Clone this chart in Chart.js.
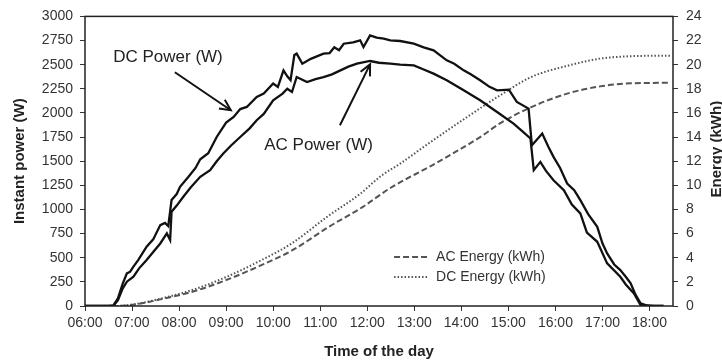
<!DOCTYPE html>
<html><head><meta charset="utf-8">
<script src="https://cdn.jsdelivr.net/npm/chart.js@4/dist/chart.umd.min.js"></script>
<style>html,body{margin:0;padding:0;background:#fff;overflow:hidden}canvas{display:block}</style>
</head><body>
<canvas id="c" width="722" height="362"></canvas>
<script>
// ---- data (hours of the day, W / kWh) ----
const dcPowerTimes = [6.0,6.5,6.6,6.7,6.8,6.89,6.96,7.03,7.13,7.31,7.45,7.6,7.7,7.77,7.84,7.95,8.02,8.2,8.35,8.45,8.62,8.8,9.0,9.16,9.3,9.44,9.65,9.8,10.0,10.1,10.22,10.3,10.37,10.45,10.5,10.62,10.8,11.07,11.2,11.3,11.4,11.5,11.7,11.85,11.92,12.06,12.2,12.35,12.49,12.7,12.99,13.2,13.41,13.69,13.85,14.05,14.2,14.4,14.6,14.76,15.01,15.18,15.43,15.5,15.6,15.72,15.85,15.96,16.1,16.25,16.4,16.53,16.7,16.89,17.0,17.1,17.25,17.38,17.5,17.6,17.7,17.81,17.95,18.1,18.3];
const dcPowerValues = [0,0,5,80,230,338,355,407,476,614,690,838,860,828,1097,1160,1234,1338,1430,1520,1583,1751,1900,1958,2040,2062,2165,2200,2304,2269,2441,2380,2340,2600,2614,2510,2560,2614,2620,2680,2650,2717,2730,2752,2683,2803,2780,2770,2752,2745,2717,2680,2648,2545,2510,2441,2400,2338,2270,2234,2241,2114,2045,1666,1720,1786,1650,1545,1430,1269,1200,1097,950,820,650,545,430,372,300,235,120,28,5,0,0];
const acPowerTimes = [6.0,6.6,6.7,6.8,6.89,7.03,7.15,7.31,7.45,7.6,7.74,7.81,7.84,7.95,8.09,8.25,8.45,8.66,8.8,8.94,9.1,9.3,9.5,9.65,9.8,10.0,10.2,10.3,10.4,10.5,10.72,10.9,11.07,11.25,11.43,11.6,11.78,12.06,12.25,12.49,12.7,12.99,13.2,13.41,13.69,14.05,14.4,14.76,15.11,15.3,15.47,15.54,15.68,15.8,15.96,16.18,16.35,16.53,16.67,16.89,17.1,17.38,17.5,17.67,17.81,18.0,18.3];
const acPowerValues = [0,0,60,180,252,303,390,476,560,648,752,683,976,1040,1131,1230,1338,1407,1500,1579,1660,1751,1840,1924,1990,2131,2200,2250,2217,2372,2320,2350,2372,2400,2441,2480,2510,2538,2520,2510,2500,2493,2450,2407,2338,2234,2131,2010,1890,1810,1735,1407,1493,1400,1303,1200,1050,959,760,665,441,303,220,131,10,0,0];
const acEnergyTimes = [6.0,6.65,7.1,7.6,8.3,9.0,9.7,10.4,11.2,11.9,12.5,13.35,13.8,14.4,14.85,15.5,16.25,16.95,17.6,18.45];
const acEnergyValues = [0,0,0.15,0.55,1.2,2.15,3.3,4.6,6.6,8.2,9.8,11.6,12.6,14.0,15.2,16.5,17.6,18.2,18.45,18.5];
const dcEnergyTimes = [6.0,6.6,7.1,7.6,8.3,9.0,9.7,10.4,11.15,11.85,12.3,12.7,13.35,14.1,14.8,15.5,16.25,16.95,17.6,18.45];
const dcEnergyValues = [0,0,0.17,0.6,1.35,2.4,3.7,5.2,7.4,9.3,10.8,11.8,13.6,15.6,17.4,19.0,19.9,20.5,20.7,20.75];
const xTickHours = [6,7,8,9,10,11,12,13,14,15,16,17,18];
const xRange = [6, 18.5];
const powerRange = [0, 3000, 250];
const energyRange = [0, 24, 2];
const seriesNames = ['DC Power (W)', 'AC Power (W)', 'AC Energy (kWh)', 'DC Energy (kWh)'];
const axisTitles = ['Time of the day', 'Instant power (W)', 'Energy (kWh)'];
// annotation anchors in data units: [textHour, textPower, arrowFromHour, arrowFromPower, arrowToHour, arrowToPower]
const dcAnnot = [6.6, 2576, 7.91, 2421, 9.1, 2028];
const acAnnot = [9.81, 1666, 11.42, 1872, 12.06, 2503];
const legendAnchor = [12.57, 507]; // hour, power

const toXY = (t, v) => t.map((x, i) => ({x, y: v[i]}));
const FONT = "'Liberation Sans', Arial, sans-serif";
const INK = '#333';

const extras = {
  id: 'extras',
  afterDraw(chart) {
    const {ctx, chartArea: a, scales} = chart;
    const X = scales.x, Y = scales.y;
    ctx.save();
    // frame
    ctx.strokeStyle = '#222'; ctx.lineWidth = 1.5;
    ctx.strokeRect(a.left, a.top, a.right - a.left, a.bottom - a.top);
    // annotations
    const drawAnnot = (ann, txt) => {
      ctx.fillStyle = '#222'; ctx.font = '17px ' + FONT;
      ctx.textAlign = 'left'; ctx.textBaseline = 'middle';
      ctx.fillText(txt, X.getPixelForValue(ann[0]), Y.getPixelForValue(ann[1]));
      const x1 = X.getPixelForValue(ann[2]), y1 = Y.getPixelForValue(ann[3]);
      const x2 = X.getPixelForValue(ann[4]), y2 = Y.getPixelForValue(ann[5]);
      ctx.strokeStyle = '#111'; ctx.lineWidth = 2;
      ctx.beginPath(); ctx.moveTo(x1, y1); ctx.lineTo(x2, y2); ctx.stroke();
      const ang = Math.atan2(y2 - y1, x2 - x1), L = 12, w = 0.45;
      ctx.beginPath();
      ctx.moveTo(x2 - L * Math.cos(ang - w), y2 - L * Math.sin(ang - w));
      ctx.lineTo(x2, y2);
      ctx.lineTo(x2 - L * Math.cos(ang + w), y2 - L * Math.sin(ang + w));
      ctx.stroke();
    };
    drawAnnot(dcAnnot, seriesNames[0]);
    drawAnnot(acAnnot, seriesNames[1]);
    // legend
    const lx = X.getPixelForValue(legendAnchor[0]);
    let ly = Y.getPixelForValue(legendAnchor[1]);
    [2, 3].forEach(i => {
      const ds = chart.data.datasets[i];
      ctx.strokeStyle = ds.borderColor; ctx.lineWidth = ds.borderWidth;
      ctx.setLineDash(ds.borderDash);
      ctx.beginPath(); ctx.moveTo(lx, ly); ctx.lineTo(lx + 35, ly); ctx.stroke();
      ctx.setLineDash([]);
      ctx.fillStyle = INK; ctx.font = '14px ' + FONT;
      ctx.textAlign = 'left'; ctx.textBaseline = 'middle';
      ctx.fillText(ds.label, lx + 42, ly);
      ly += 20;
    });
    // right axis title (reads bottom-to-top)
    ctx.save();
    ctx.translate(717, (a.top + a.bottom) / 2 - 12);
    ctx.rotate(-Math.PI / 2);
    ctx.font = 'bold 15px ' + FONT; ctx.fillStyle = '#222';
    ctx.textAlign = 'center'; ctx.textBaseline = 'middle';
    ctx.fillText(axisTitles[2], 0, 0);
    ctx.restore();
    ctx.restore();
  }
};

new Chart(document.getElementById('c'), {
  type: 'line',
  data: {
    datasets: [
      {label: seriesNames[0], data: toXY(dcPowerTimes, dcPowerValues), yAxisID: 'y', borderColor: '#111', borderWidth: 2.3, pointRadius: 0, tension: 0},
      {label: seriesNames[1], data: toXY(acPowerTimes, acPowerValues), yAxisID: 'y', borderColor: '#111', borderWidth: 2.3, pointRadius: 0, tension: 0},
      {label: seriesNames[2], data: toXY(acEnergyTimes, acEnergyValues), yAxisID: 'y2', borderColor: '#555', borderWidth: 2, borderDash: [6, 3], pointRadius: 0, cubicInterpolationMode: 'monotone'},
      {label: seriesNames[3], data: toXY(dcEnergyTimes, dcEnergyValues), yAxisID: 'y2', borderColor: '#555', borderWidth: 2, borderDash: [1.5, 2], pointRadius: 0, cubicInterpolationMode: 'monotone'}
    ]
  },
  options: {
    responsive: false, animation: false, devicePixelRatio: 1,
    layout: {padding: {top: 16, left: 0, right: 0, bottom: 0}},
    plugins: {legend: {display: false}, tooltip: {enabled: false}},
    scales: {
      x: {
        type: 'linear', min: xRange[0], max: xRange[1],
        afterFit(s) { s.height = 56; },
        afterBuildTicks(s) { s.ticks = xTickHours.map(v => ({value: v})); },
        ticks: {callback: v => String(v).padStart(2, '0') + ':00', font: {family: FONT, size: 14}, color: INK, padding: 4, maxRotation: 0, autoSkip: false},
        grid: {drawOnChartArea: false, drawTicks: true, tickLength: 5, color: '#333', lineWidth: 1},
        border: {display: false},
        title: {display: true, text: axisTitles[0], font: {family: FONT, size: 15, weight: 'bold'}, color: '#222', padding: {top: 0, bottom: 1}}
      },
      y: {
        position: 'left', min: powerRange[0], max: powerRange[1],
        afterFit(s) { s.width = 85; },
        ticks: {stepSize: powerRange[2], callback: v => String(v), font: {family: FONT, size: 14}, color: INK, padding: 7},
        grid: {drawOnChartArea: false, drawTicks: true, tickLength: 5, color: '#333', lineWidth: 1},
        border: {display: false},
        title: {display: true, text: axisTitles[1], font: {family: FONT, size: 15, weight: 'bold'}, color: '#222', padding: {top: 11, bottom: 0}}
      },
      y2: {
        position: 'right', min: energyRange[0], max: energyRange[1],
        afterFit(s) { s.width = 49; },
        ticks: {stepSize: energyRange[2], callback: v => String(v), font: {family: FONT, size: 14}, color: INK, padding: 8},
        grid: {drawOnChartArea: false, drawTicks: true, tickLength: 5, color: '#333', lineWidth: 1},
        border: {display: false},
        title: {display: false}
      }
    }
  },
  plugins: [extras]
});
</script>
</body></html>
